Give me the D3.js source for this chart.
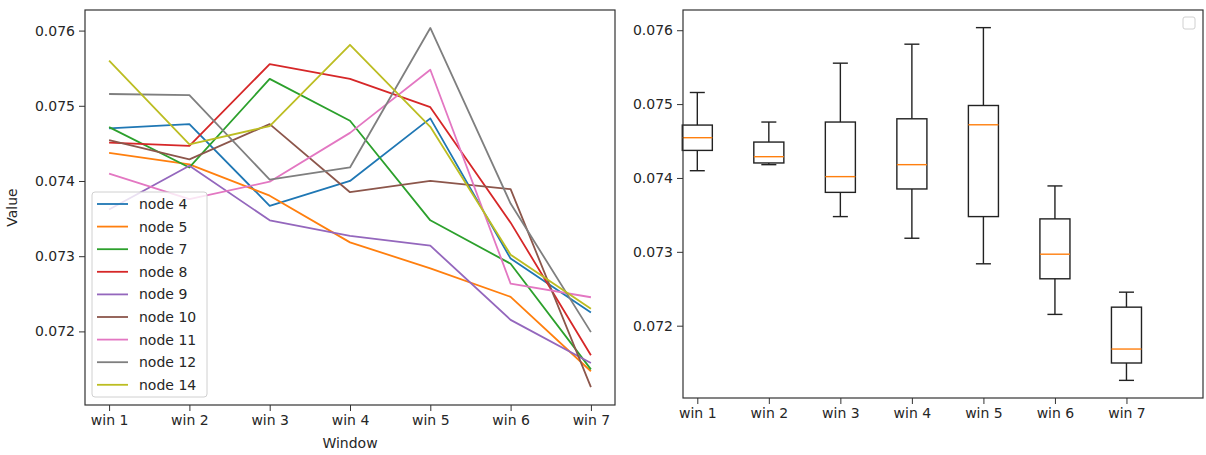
<!DOCTYPE html>
<html><head><meta charset="utf-8">
<script src="https://cdn.jsdelivr.net/npm/d3@7"></script>
<style>
body{margin:0;background:#fff}
svg{display:block}
text{font-family:"DejaVu Sans",sans-serif;fill:#262626}
</style>
</head><body>
<svg id="c" width="1206" height="455"></svg>
<script>
// ---- data ----
const windows = ["win 1","win 2","win 3","win 4","win 5","win 6","win 7"];
const nodeNames = ["node 4","node 5","node 7","node 8","node 9","node 10","node 11","node 12","node 14"];
const node4  = [0.074700, 0.074757, 0.073670, 0.074001, 0.074833, 0.072968, 0.072251];
const node5  = [0.074373, 0.074220, 0.073805, 0.073184, 0.072838, 0.072460, 0.071470];
const node7  = [0.074716, 0.074180, 0.075358, 0.074801, 0.073477, 0.072900, 0.071495];
const node8  = [0.074510, 0.074466, 0.075554, 0.075358, 0.074981, 0.073446, 0.071684];
const node9  = [0.073620, 0.074203, 0.073477, 0.073270, 0.073140, 0.072153, 0.071580];
const node10 = [0.074545, 0.074288, 0.074757, 0.073851, 0.074001, 0.073892, 0.071260];
const node11 = [0.074098, 0.073760, 0.073990, 0.074640, 0.075480, 0.072635, 0.072454];
const node12 = [0.075157, 0.075142, 0.074018, 0.074180, 0.076035, 0.073700, 0.071990];
const node14 = [0.075600, 0.074486, 0.074730, 0.075811, 0.074720, 0.073020, 0.072300];
const yTicks = [0.072, 0.073, 0.074, 0.075, 0.076];

const series = [node4, node5, node7, node8, node9, node10, node11, node12, node14];
const colors = ["#1f77b4","#ff7f0e","#2ca02c","#d62728","#9467bd","#8c564b","#e377c2","#7f7f7f","#bcbd22"];

const svg = d3.select("#c");
const fmt = d3.format(".3f");

function styleAxis(g){
  g.select(".domain").remove();
  g.selectAll(".tick line").attr("stroke","#333").attr("stroke-width",1);
  g.selectAll(".tick text").attr("font-size","14px").attr("fill","#262626")
   .style("font-family",'"DejaVu Sans",sans-serif');
}

// ---- left panel: lines ----
const allVals = series.flat();
const [mn, mx] = d3.extent(allVals);
const pad = (mx - mn) * 0.05;
const L = {x0:85, x1:615, y0:10, y1:405};
const xL = d3.scaleLinear().domain([-0.3, windows.length - 1 + 0.3]).range([L.x0, L.x1]);
const yL = d3.scaleLinear().domain([mn - pad, mx + pad]).range([L.y1, L.y0]);

const gL = svg.append("g");
const line = d3.line().x((d,i) => xL(i)).y(d => yL(d));
series.forEach((s, k) => {
  gL.append("path").datum(s).attr("d", line)
    .attr("fill","none").attr("stroke", colors[k]).attr("stroke-width",1.8)
    .attr("stroke-linejoin","round");
});

gL.append("g").attr("transform",`translate(${L.x0},0)`)
  .call(d3.axisLeft(yL).tickValues(yTicks).tickFormat(fmt).tickSize(6).tickPadding(4))
  .call(styleAxis);
gL.append("g").attr("transform",`translate(0,${L.y1})`)
  .call(d3.axisBottom(xL).tickValues(d3.range(windows.length)).tickFormat(i => windows[i]).tickSize(6).tickPadding(4))
  .call(styleAxis);
gL.append("rect").attr("x",L.x0).attr("y",L.y0).attr("width",L.x1-L.x0).attr("height",L.y1-L.y0)
  .attr("fill","none").attr("stroke","#333").attr("stroke-width",1.2);

// legend
const lg = gL.append("g").attr("transform","translate(92,192)");
lg.append("rect").attr("width",115).attr("height",205).attr("rx",3)
  .attr("fill","#fff").attr("fill-opacity",0.8).attr("stroke","#d0d0d0");
nodeNames.forEach((n,k) => {
  const yy = 12 + k*22.6;
  lg.append("line").attr("x1",5).attr("x2",36).attr("y1",yy).attr("y2",yy)
    .attr("stroke",colors[k]).attr("stroke-width",1.8);
  lg.append("text").attr("x",47).attr("y",yy).attr("dy","0.35em").attr("font-size","14px").text(n);
});

svg.append("text").attr("x",(L.x0+L.x1)/2 + 0).attr("y",448).attr("text-anchor","middle")
  .attr("font-size","14px").text("Window");
svg.append("text").attr("transform",`translate(17,${(L.y0+L.y1)/2}) rotate(-90)`)
  .attr("text-anchor","middle").attr("font-size","14px").text("Value");

// ---- right panel: box plots ----
const stats = windows.map((w,i) => {
  const v = series.map(s => s[i]).sort(d3.ascending);
  const q1 = d3.quantile(v, 0.25), med = d3.quantile(v, 0.5), q3 = d3.quantile(v, 0.75);
  const iqr = q3 - q1;
  const lo = d3.min(v.filter(d => d >= q1 - 1.5*iqr));
  const hi = d3.max(v.filter(d => d <= q3 + 1.5*iqr));
  return {i, q1, med, q3, lo, hi};
});
const R = {x0:683, x1:1203, y0:10, y1:398};
const wMin = d3.min(stats, d => d.lo), wMax = d3.max(stats, d => d.hi);
const padR = (wMax - wMin) * 0.05;
const xR = d3.scaleLinear().domain([0.8, 8.07]).range([R.x0, R.x1]);
const yR = d3.scaleLinear().domain([wMin - padR, wMax + padR]).range([R.y1, R.y0]);
const bw = 0.42, cw = 0.21;

const gR = svg.append("g");
stats.forEach(d => {
  const p = d.i + 1;
  const g = gR.append("g").attr("stroke","#222").attr("stroke-width",1.4).attr("fill","none");
  g.append("line").attr("x1",xR(p)).attr("x2",xR(p)).attr("y1",yR(d.hi)).attr("y2",yR(d.q3));
  g.append("line").attr("x1",xR(p)).attr("x2",xR(p)).attr("y1",yR(d.q1)).attr("y2",yR(d.lo));
  g.append("line").attr("x1",xR(p-cw/2)).attr("x2",xR(p+cw/2)).attr("y1",yR(d.hi)).attr("y2",yR(d.hi));
  g.append("line").attr("x1",xR(p-cw/2)).attr("x2",xR(p+cw/2)).attr("y1",yR(d.lo)).attr("y2",yR(d.lo));
  g.append("rect").attr("x",xR(p-bw/2)).attr("y",yR(d.q3))
    .attr("width",xR(p+bw/2)-xR(p-bw/2)).attr("height",yR(d.q1)-yR(d.q3));
  gR.append("line").attr("x1",xR(p-bw/2)).attr("x2",xR(p+bw/2)).attr("y1",yR(d.med)).attr("y2",yR(d.med))
    .attr("stroke","#ff7f0e").attr("stroke-width",1.4);
});

gR.append("g").attr("transform",`translate(${R.x0},0)`)
  .call(d3.axisLeft(yR).tickValues(yTicks).tickFormat(fmt).tickSize(6).tickPadding(4))
  .call(styleAxis);
gR.append("g").attr("transform",`translate(0,${R.y1})`)
  .call(d3.axisBottom(xR).tickValues(d3.range(1, windows.length+1)).tickFormat(i => windows[i-1]).tickSize(6).tickPadding(4))
  .call(styleAxis);
gR.append("rect").attr("x",R.x0).attr("y",R.y0).attr("width",R.x1-R.x0).attr("height",R.y1-R.y0)
  .attr("fill","none").attr("stroke","#333").attr("stroke-width",1.2);
// empty legend box
gR.append("rect").attr("x",R.x1-20).attr("y",17).attr("width",12).attr("height",12).attr("rx",2)
  .attr("fill","#fff").attr("stroke","#d0d0d0");
</script>
</body></html>
